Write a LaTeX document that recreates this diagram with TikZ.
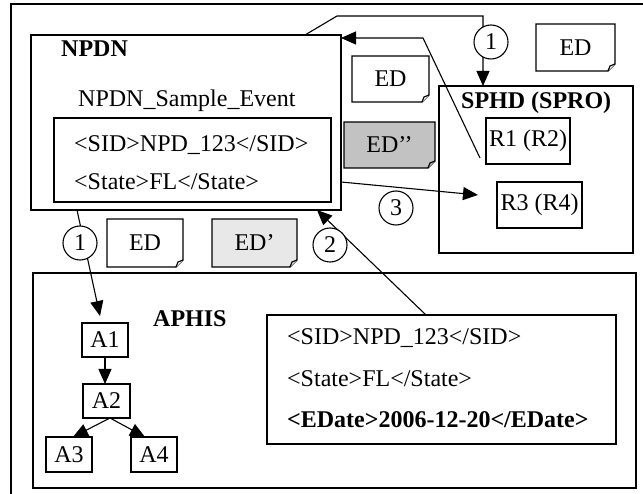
\documentclass[tikz,border=0pt]{standalone}
\usepackage{fontspec}
\setmainfont{Liberation Serif}
\usetikzlibrary{arrows.meta}
\definecolor{darkfill}{gray}{0.76}
\definecolor{lightfill}{gray}{0.91}
\newcommand\EDnote[7]{%
  \draw[notebox,fill=#6] (#2,#3) -- (#4,#3) -- (#4,{#5-7}) -- ({#4-7},#5) -- (#2,#5) -- cycle;
  \draw[notebox,fill=#6] ({#4-7},#5) -- ({#4-5},{#5-5}) -- (#4,{#5-7});
  \node[txt] (#1) at ({(#2+#4)/2},{(#3+#5)/2}) {#7};
}
\begin{document}
\begin{tikzpicture}[x=1pt,y=-1pt,
  txt/.style={font=\fontsize{24}{28}\selectfont, inner sep=0pt},
  btxt/.style={font=\fontsize{24}{28}\selectfont\bfseries, inner sep=0pt},
  box/.style={draw, line width=1.4pt, inner sep=0pt, outer sep=0pt},
  abox/.style={box, font=\fontsize{24}{28}\selectfont},
  notebox/.style={line width=1.2pt, line join=miter},
  conn/.style={line width=1.1pt},
  arr/.style={conn, -{Triangle[length=15pt,width=13pt]}},
  num/.style={circle, draw, line width=1.1pt, fill=white, minimum size=34pt, inner sep=0pt, font=\fontsize{24}{24}\selectfont}
]
\useasboundingbox (0,0) rectangle (643,494);
\clip (0,0) rectangle (643,494);
\fill[white] (0,0) rectangle (643,494);
% outer frame
\draw[line width=1.2pt] (11,500) -- (11,4) -- (650,4);

% NPDN
\node[box, minimum width=310pt, minimum height=175pt] (npdn) at (186,122.5) {};
\node[box, minimum width=277pt, minimum height=84pt] (npdnxml) at (192.5,160) {};
\node[btxt, anchor=base west] (npdnlbl) at (61,57) {NPDN};
\node[txt, anchor=base west] (npdnev) at (78,107) {NPDN\_Sample\_Event};
\node[txt, anchor=base west] (sid1) at (74,152) {<SID>NPD\_123</SID>};
\node[txt, anchor=base west] (state1) at (74,190) {<State>FL</State>};

% SPHD
\node[box, minimum width=194pt, minimum height=167pt] (sphd) at (536,169.5) {};
\node[btxt, anchor=base west] (sphdlbl) at (461,109) {SPHD (SPRO)};
\node[abox, minimum width=84pt, minimum height=46pt] (r1) at (528,141) {R1 (R2)};
\node[abox, minimum width=85pt, minimum height=46pt] (r3) at (539.5,205) {R3 (R4)};

% APHIS
\node[box, minimum width=603pt, minimum height=215pt] (aphis) at (334.5,380.5) {};
\node[btxt, anchor=base west] (aphislbl) at (153,327) {APHIS};
\node[box, minimum width=349pt, minimum height=129pt] (aphisxml) at (441.5,379.5) {};
\node[txt, anchor=base west] (sid2) at (287,345) {<SID>NPD\_123</SID>};
\node[txt, anchor=base west] (state2) at (287,387) {<State>FL</State>};
\node[btxt, anchor=base west] (edate) at (287,428) {<EDate>2006-12-20</EDate>};
\node[abox, minimum width=46pt, minimum height=34pt] (a1) at (105,340) {A1};
\node[abox, minimum width=47pt, minimum height=34pt] (a2) at (106.5,401) {A2};
\node[abox, minimum width=46pt, minimum height=35pt] (a3) at (69,454.5) {A3};
\node[abox, minimum width=46pt, minimum height=35pt] (a4) at (154,454.5) {A4};

% notes
\EDnote{edtr}{536}{24}{615}{71}{white}{ED}
\EDnote{edmid}{352}{56}{429}{102}{white}{ED}
\EDnote{edpp}{344}{122}{435}{168}{darkfill}{ED’’}
\EDnote{edbl}{107}{219}{183}{267}{white}{ED}
\EDnote{edp}{212}{219}{297}{267}{lightfill}{ED’}

% connectors
\coordinate (t1) at (337,16);
\coordinate (t2) at (483,16);
\draw[arr] ([xshift=-36pt]npdn.north east) -- (t1) -- (t2) -- ([xshift=-53pt]sphd.north);
\coordinate (rb) at (423,38);
\draw[arr] ([xshift=-6pt,yshift=6pt]r1.south west) -- (rb) -- ([yshift=-3pt]npdn.north east);
\draw[arr] ([yshift=-59.5pt]npdn.east) -- ([xshift=-19pt,yshift=10pt]r3.west);
\draw[arr] ([xshift=-15.5pt]aphisxml.north) -- ([xshift=-24pt]npdn.south east);
\draw[arr] ([xshift=46pt]npdn.south west) -- ([xshift=-5pt,yshift=7pt]a1.north);
\draw[arr] (a1.south) -- (a1.south |- a2.north);
\draw[arr] ([xshift=3.5pt]a2.south) -- ([xshift=4pt]a3.north);
\draw[arr] ([xshift=3.5pt]a2.south) -- ([xshift=-9pt]a4.north);

% numbered circles
\node[num] (c1top) at (491,42) {1};
\node[num] (c3) at (396,208) {3};
\node[num] (c1bot) at (80,243) {1};
\node[num] (c2) at (330,245) {2};
\end{tikzpicture}
\end{document}
